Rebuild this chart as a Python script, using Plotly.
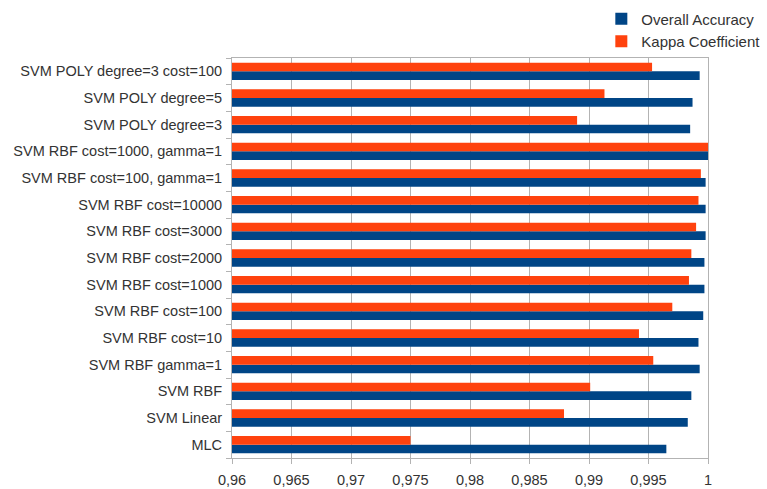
import plotly.graph_objects as go

# Classifier configurations, bottom to top
categories = [
    "MLC",
    "SVM Linear",
    "SVM RBF",
    "SVM RBF gamma=1",
    "SVM RBF cost=10",
    "SVM RBF cost=100",
    "SVM RBF cost=1000",
    "SVM RBF cost=2000",
    "SVM RBF cost=3000",
    "SVM RBF cost=10000",
    "SVM RBF cost=100, gamma=1",
    "SVM RBF cost=1000, gamma=1",
    "SVM POLY degree=3",
    "SVM POLY degree=5",
    "SVM POLY degree=3 cost=100",
]

overall_accuracy = [0.9965, 0.9983, 0.9986, 0.9993, 0.9992, 0.9996, 0.9997,
                    0.9997, 0.9998, 0.9998, 0.9998, 1.0, 0.9985, 0.9987, 0.9993]
kappa_coefficient = [0.9750, 0.9879, 0.9901, 0.9954, 0.9942, 0.9970, 0.9984,
                     0.9986, 0.9990, 0.9992, 0.9994, 1.0, 0.9890, 0.9913, 0.9953]

x_ticks = [0.96, 0.965, 0.97, 0.975, 0.98, 0.985, 0.99, 0.995, 1.0]

BLUE = "#004586"
ORANGE = "#ff420e"
GRID = "#b3b3b3"
TEXT = "#333333"
FONT = "Liberation Sans"

fig = go.Figure()
fig.add_trace(go.Bar(
    y=categories, x=overall_accuracy, orientation="h",
    name="Overall Accuracy", marker=dict(color=BLUE, line=dict(width=0)),
))
fig.add_trace(go.Bar(
    y=categories, x=kappa_coefficient, orientation="h",
    name="Kappa Coefficient", marker=dict(color=ORANGE, line=dict(width=0)),
))

fig.update_layout(
    width=767, height=489,
    margin=dict(l=232, r=59, t=58, b=31, autoexpand=False),
    paper_bgcolor="white", plot_bgcolor="white",
    barmode="group", bargap=0.35, bargroupgap=0.0,
    separators=", ",
    font=dict(family=FONT, size=14.5, color=TEXT),
    showlegend=True,
    legend=dict(
        xref="container", yref="container",
        x=0.784, xanchor="left", y=0.995, yanchor="top",
        font=dict(family=FONT, size=15, color=TEXT),
        itemwidth=30, tracegroupgap=0,
        bgcolor="rgba(0,0,0,0)",
    ),
    xaxis=dict(
        range=[0.96, 1.0], tickvals=x_ticks,
        showgrid=True, gridcolor=GRID, gridwidth=1,
        showline=True, linecolor=GRID, linewidth=1, mirror=True,
        ticks="outside", ticklen=5, tickcolor=GRID,
        ticklabelstandoff=4,
        zeroline=False, automargin=False,
        tickfont=dict(family=FONT, size=14.5, color=TEXT),
    ),
    yaxis=dict(
        type="category", categoryorder="array", categoryarray=categories,
        tickson="boundaries", ticks="outside", ticklen=5, tickcolor=GRID,
        ticklabelstandoff=6,
        showgrid=False, automargin=False,
        showline=True, linecolor=GRID, linewidth=1, mirror=True,
        tickfont=dict(family=FONT, size=14.5, color=TEXT),
    ),
)

fig.write_html("out.html")
